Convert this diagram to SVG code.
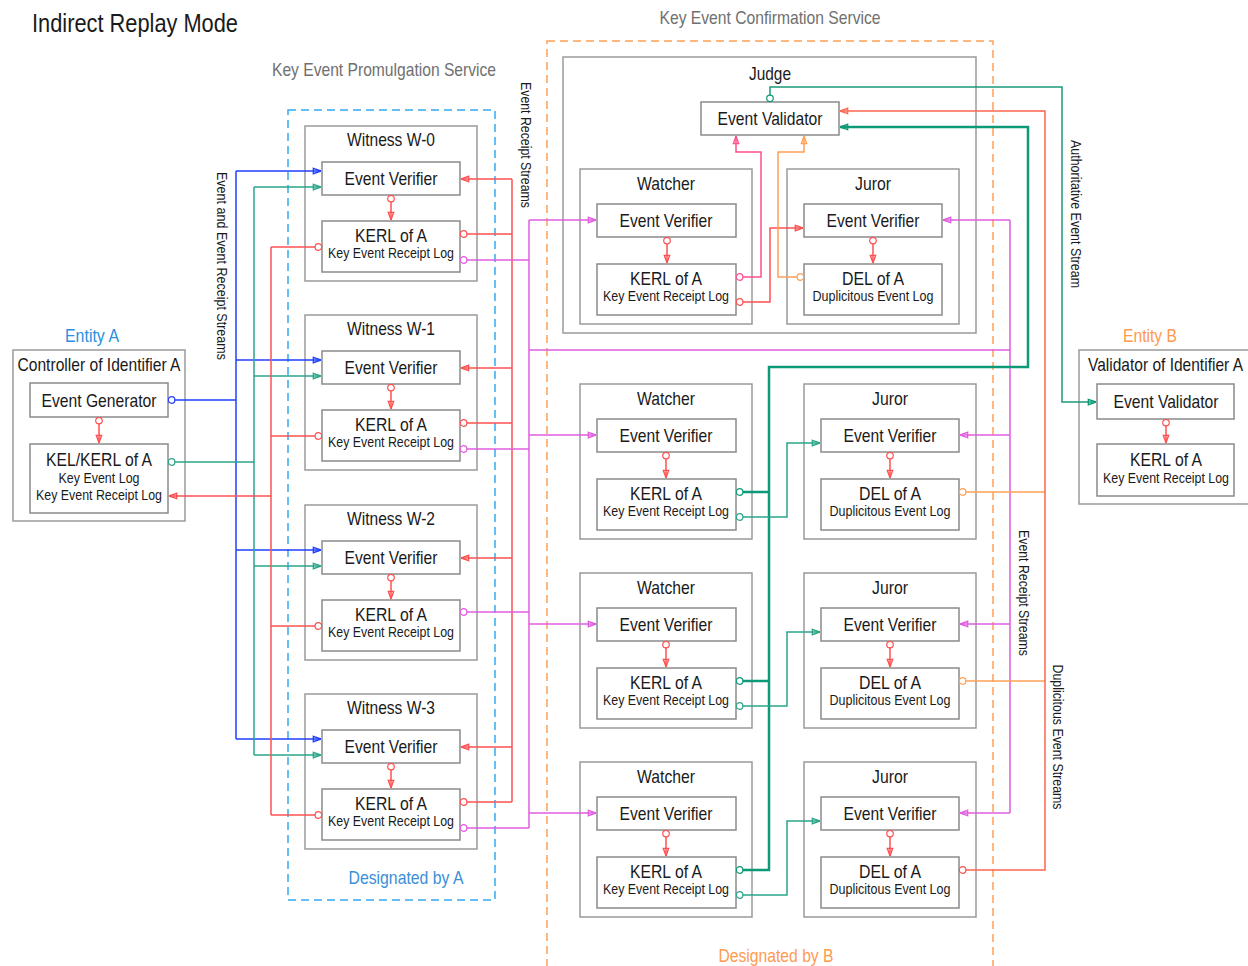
<svg xmlns="http://www.w3.org/2000/svg" width="1248" height="966" viewBox="0 0 1248 966">
<style>
text{font-family:"Liberation Sans",Arial,sans-serif;fill:#1a1a1a}
.t{font-size:19px;text-anchor:middle}
.s{font-size:15px;text-anchor:middle}
.v{font-size:15px;text-anchor:middle}
.g{font-size:19px;text-anchor:middle;fill:#707070}
.outer{fill:#fff;stroke:#9a9a9a;stroke-width:1.5}
.inner{fill:#fff;stroke:#8a8a8a;stroke-width:1.5}
path{fill:none;stroke-width:1.5}
.red{stroke:#ff5050}
.blue{stroke:#1f3fff}
.green{stroke:#2aa58a}
.teal{stroke:#0e9a78;stroke-width:2.5}
.mag{stroke:#e05ce0}
.orange{stroke:#ffa055}
.pink{stroke:#ff4f8f}
.dr{stroke:#ff6650}
.int{stroke:#ff5050;marker-start:url(#c-red);marker-end:url(#a-red)}
</style>
<defs>
<marker id="a-red" viewBox="0 0 10 8" refX="9.5" refY="4" markerWidth="9" markerHeight="7.2" markerUnits="userSpaceOnUse" orient="auto"><path d="M1,1 L9.3,4 L1,7 Z" fill="#fff" stroke="#ff5050" stroke-width="1.3"/></marker>
<marker id="a-blue" viewBox="0 0 10 8" refX="9.5" refY="4" markerWidth="9" markerHeight="7.2" markerUnits="userSpaceOnUse" orient="auto"><path d="M1,1 L9.3,4 L1,7 Z" fill="#fff" stroke="#1f3fff" stroke-width="1.3"/></marker>
<marker id="a-green" viewBox="0 0 10 8" refX="9.5" refY="4" markerWidth="9" markerHeight="7.2" markerUnits="userSpaceOnUse" orient="auto"><path d="M1,1 L9.3,4 L1,7 Z" fill="#fff" stroke="#2aa58a" stroke-width="1.3"/></marker>
<marker id="a-teal" viewBox="0 0 10 8" refX="9.5" refY="4" markerWidth="9" markerHeight="7.2" markerUnits="userSpaceOnUse" orient="auto"><path d="M1,1 L9.3,4 L1,7 Z" fill="#fff" stroke="#0e9a78" stroke-width="1.5"/></marker>
<marker id="a-mag" viewBox="0 0 10 8" refX="9.5" refY="4" markerWidth="9" markerHeight="7.2" markerUnits="userSpaceOnUse" orient="auto"><path d="M1,1 L9.3,4 L1,7 Z" fill="#fff" stroke="#e05ce0" stroke-width="1.3"/></marker>
<marker id="a-orange" viewBox="0 0 10 8" refX="9.5" refY="4" markerWidth="9" markerHeight="7.2" markerUnits="userSpaceOnUse" orient="auto"><path d="M1,1 L9.3,4 L1,7 Z" fill="#fff" stroke="#ffa055" stroke-width="1.3"/></marker>
<marker id="a-pink" viewBox="0 0 10 8" refX="9.5" refY="4" markerWidth="9" markerHeight="7.2" markerUnits="userSpaceOnUse" orient="auto"><path d="M1,1 L9.3,4 L1,7 Z" fill="#fff" stroke="#ff4f8f" stroke-width="1.3"/></marker>
<marker id="a-dr" viewBox="0 0 10 8" refX="9.5" refY="4" markerWidth="9" markerHeight="7.2" markerUnits="userSpaceOnUse" orient="auto"><path d="M1,1 L9.3,4 L1,7 Z" fill="#fff" stroke="#ff6650" stroke-width="1.3"/></marker>
<marker id="c-red" viewBox="0 0 8 8" refX="0.4" refY="4" markerWidth="8" markerHeight="8" markerUnits="userSpaceOnUse" orient="auto"><circle cx="4" cy="4" r="3.3" fill="#fff" stroke="#ff5050" stroke-width="1.2"/></marker>
<marker id="c-blue" viewBox="0 0 8 8" refX="0.4" refY="4" markerWidth="8" markerHeight="8" markerUnits="userSpaceOnUse" orient="auto"><circle cx="4" cy="4" r="3.3" fill="#fff" stroke="#1f3fff" stroke-width="1.2"/></marker>
<marker id="c-green" viewBox="0 0 8 8" refX="0.4" refY="4" markerWidth="8" markerHeight="8" markerUnits="userSpaceOnUse" orient="auto"><circle cx="4" cy="4" r="3.3" fill="#fff" stroke="#2aa58a" stroke-width="1.2"/></marker>
<marker id="c-teal" viewBox="0 0 8 8" refX="0.4" refY="4" markerWidth="8" markerHeight="8" markerUnits="userSpaceOnUse" orient="auto"><circle cx="4" cy="4" r="3.3" fill="#fff" stroke="#0e9a78" stroke-width="1.2"/></marker>
<marker id="c-mag" viewBox="0 0 8 8" refX="0.4" refY="4" markerWidth="8" markerHeight="8" markerUnits="userSpaceOnUse" orient="auto"><circle cx="4" cy="4" r="3.3" fill="#fff" stroke="#e05ce0" stroke-width="1.2"/></marker>
<marker id="c-orange" viewBox="0 0 8 8" refX="0.4" refY="4" markerWidth="8" markerHeight="8" markerUnits="userSpaceOnUse" orient="auto"><circle cx="4" cy="4" r="3.3" fill="#fff" stroke="#ffa055" stroke-width="1.2"/></marker>
<marker id="c-pink" viewBox="0 0 8 8" refX="0.4" refY="4" markerWidth="8" markerHeight="8" markerUnits="userSpaceOnUse" orient="auto"><circle cx="4" cy="4" r="3.3" fill="#fff" stroke="#ff4f8f" stroke-width="1.2"/></marker>
</defs>
<rect width="1248" height="966" fill="#fff"/>

<g id="labels">
<text x="32" y="32" style="font-size:26px" textLength="206" lengthAdjust="spacingAndGlyphs">Indirect Replay Mode</text>
<text class="g" x="770" y="24" textLength="221" lengthAdjust="spacingAndGlyphs">Key Event Confirmation Service</text>
<text class="g" x="384" y="76" textLength="224" lengthAdjust="spacingAndGlyphs">Key Event Promulgation Service</text>
<text class="t" x="406" y="884" style="fill:#3b8fd8" textLength="115" lengthAdjust="spacingAndGlyphs">Designated by A</text>
<text class="t" x="776" y="962" style="fill:#ff9a50" textLength="115" lengthAdjust="spacingAndGlyphs">Designated by B</text>
<text class="t" x="92" y="342" style="fill:#2a90e0" textLength="54" lengthAdjust="spacingAndGlyphs">Entity A</text>
<text class="t" x="1150" y="342" style="fill:#ff9a50" textLength="54" lengthAdjust="spacingAndGlyphs">Entity B</text>
<text class="v" transform="translate(217,266) rotate(90)" textLength="188" lengthAdjust="spacingAndGlyphs">Event and Event Receipt Streams</text>
<text class="v" transform="translate(521,145) rotate(90)" textLength="126" lengthAdjust="spacingAndGlyphs">Event Receipt Streams</text>
<text class="v" transform="translate(1071,214) rotate(90)" textLength="148" lengthAdjust="spacingAndGlyphs">Authoritative Event Stream</text>
<text class="v" transform="translate(1019,593) rotate(90)" textLength="126" lengthAdjust="spacingAndGlyphs">Event Receipt Streams</text>
<text class="v" transform="translate(1053,737) rotate(90)" textLength="145" lengthAdjust="spacingAndGlyphs">Duplicitous Event Streams</text>
</g>

<g id="zones" fill="none" stroke-width="1.5" stroke-dasharray="8,5">
<rect x="288" y="110" width="207" height="790" stroke="#33aaee"/>
<rect x="547" y="41" width="446" height="940" stroke="#ffa055"/>
</g>

<g id="controllerA">
<rect class="outer" x="13" y="350" width="172" height="171"/>
<text class="t" x="99" y="371" textLength="163" lengthAdjust="spacingAndGlyphs">Controller of Identifier A</text>
<rect class="inner" x="30" y="383" width="138" height="34"/>
<text class="t" x="99" y="407" textLength="115" lengthAdjust="spacingAndGlyphs">Event Generator</text>
<rect class="inner" x="30" y="444" width="138" height="69"/>
<text class="t" x="99" y="466" textLength="106" lengthAdjust="spacingAndGlyphs">KEL/KERL of A</text>
<text class="s" x="99" y="483" textLength="81" lengthAdjust="spacingAndGlyphs">Key Event Log</text>
<text class="s" x="99" y="500" textLength="126" lengthAdjust="spacingAndGlyphs">Key Event Receipt Log</text>
</g>

<g id="validatorB">
<path d="M1248,350 H1079 V504 H1248" style="fill:#fff;stroke:#9a9a9a;stroke-width:1.5"/>
<text class="t" x="1243" y="371" style="text-anchor:end" textLength="155" lengthAdjust="spacingAndGlyphs">Validator of Identifier A</text>
<rect class="inner" x="1097" y="384" width="137" height="35"/>
<text class="t" x="1166" y="408" textLength="105" lengthAdjust="spacingAndGlyphs">Event Validator</text>
<rect class="inner" x="1097" y="444" width="137" height="52"/>
<text class="t" x="1166" y="466" textLength="72" lengthAdjust="spacingAndGlyphs">KERL of A</text>
<text class="s" x="1229" y="483" style="text-anchor:end" textLength="126" lengthAdjust="spacingAndGlyphs">Key Event Receipt Log</text>
</g>

<g id="witness0">
<rect class="outer" x="305" y="126" width="172" height="155"/>
<text class="t" x="391" y="146" textLength="88" lengthAdjust="spacingAndGlyphs">Witness W-0</text>
<rect class="inner" x="322" y="162" width="138" height="33"/>
<text class="t" x="391" y="185" textLength="93" lengthAdjust="spacingAndGlyphs">Event Verifier</text>
<rect class="inner" x="322" y="221" width="138" height="51"/>
<text class="t" x="391" y="242" textLength="72" lengthAdjust="spacingAndGlyphs">KERL of A</text>
<text class="s" x="391" y="258" textLength="126" lengthAdjust="spacingAndGlyphs">Key Event Receipt Log</text>
</g>
<g id="witness1">
<rect class="outer" x="305" y="315" width="172" height="155"/>
<text class="t" x="391" y="335" textLength="88" lengthAdjust="spacingAndGlyphs">Witness W-1</text>
<rect class="inner" x="322" y="351" width="138" height="33"/>
<text class="t" x="391" y="374" textLength="93" lengthAdjust="spacingAndGlyphs">Event Verifier</text>
<rect class="inner" x="322" y="410" width="138" height="51"/>
<text class="t" x="391" y="431" textLength="72" lengthAdjust="spacingAndGlyphs">KERL of A</text>
<text class="s" x="391" y="447" textLength="126" lengthAdjust="spacingAndGlyphs">Key Event Receipt Log</text>
</g>
<g id="witness2">
<rect class="outer" x="305" y="505" width="172" height="155"/>
<text class="t" x="391" y="525" textLength="88" lengthAdjust="spacingAndGlyphs">Witness W-2</text>
<rect class="inner" x="322" y="541" width="138" height="33"/>
<text class="t" x="391" y="564" textLength="93" lengthAdjust="spacingAndGlyphs">Event Verifier</text>
<rect class="inner" x="322" y="600" width="138" height="51"/>
<text class="t" x="391" y="621" textLength="72" lengthAdjust="spacingAndGlyphs">KERL of A</text>
<text class="s" x="391" y="637" textLength="126" lengthAdjust="spacingAndGlyphs">Key Event Receipt Log</text>
</g>
<g id="witness3">
<rect class="outer" x="305" y="694" width="172" height="155"/>
<text class="t" x="391" y="714" textLength="88" lengthAdjust="spacingAndGlyphs">Witness W-3</text>
<rect class="inner" x="322" y="730" width="138" height="33"/>
<text class="t" x="391" y="753" textLength="93" lengthAdjust="spacingAndGlyphs">Event Verifier</text>
<rect class="inner" x="322" y="789" width="138" height="51"/>
<text class="t" x="391" y="810" textLength="72" lengthAdjust="spacingAndGlyphs">KERL of A</text>
<text class="s" x="391" y="826" textLength="126" lengthAdjust="spacingAndGlyphs">Key Event Receipt Log</text>
</g>

<g id="judge">
<rect class="outer" x="563" y="57" width="413" height="276"/>
<text class="t" x="770" y="80" textLength="42" lengthAdjust="spacingAndGlyphs">Judge</text>
<rect class="inner" x="701" y="102" width="138" height="33"/>
<text class="t" x="770" y="125" textLength="105" lengthAdjust="spacingAndGlyphs">Event Validator</text>
</g>
<g id="watcher0">
<rect class="outer" x="580" y="169" width="172" height="155"/>
<text class="t" x="666" y="190" textLength="58" lengthAdjust="spacingAndGlyphs">Watcher</text>
<rect class="inner" x="597" y="204" width="139" height="33"/>
<text class="t" x="666" y="227" textLength="93" lengthAdjust="spacingAndGlyphs">Event Verifier</text>
<rect class="inner" x="597" y="264" width="139" height="51"/>
<text class="t" x="666" y="285" textLength="72" lengthAdjust="spacingAndGlyphs">KERL of A</text>
<text class="s" x="666" y="301" textLength="126" lengthAdjust="spacingAndGlyphs">Key Event Receipt Log</text>
</g>
<g id="juror0">
<rect class="outer" x="787" y="169" width="172" height="155"/>
<text class="t" x="873" y="190" textLength="36" lengthAdjust="spacingAndGlyphs">Juror</text>
<rect class="inner" x="804" y="204" width="138" height="33"/>
<text class="t" x="873" y="227" textLength="93" lengthAdjust="spacingAndGlyphs">Event Verifier</text>
<rect class="inner" x="804" y="264" width="138" height="51"/>
<text class="t" x="873" y="285" textLength="62" lengthAdjust="spacingAndGlyphs">DEL of A</text>
<text class="s" x="873" y="301" textLength="121" lengthAdjust="spacingAndGlyphs">Duplicitous Event Log</text>
</g>

<g id="watcher1">
<rect class="outer" x="580" y="384" width="172" height="155"/>
<text class="t" x="666" y="405" textLength="58" lengthAdjust="spacingAndGlyphs">Watcher</text>
<rect class="inner" x="597" y="419" width="139" height="33"/>
<text class="t" x="666" y="442" textLength="93" lengthAdjust="spacingAndGlyphs">Event Verifier</text>
<rect class="inner" x="597" y="479" width="139" height="51"/>
<text class="t" x="666" y="500" textLength="72" lengthAdjust="spacingAndGlyphs">KERL of A</text>
<text class="s" x="666" y="516" textLength="126" lengthAdjust="spacingAndGlyphs">Key Event Receipt Log</text>
</g>
<g id="juror1">
<rect class="outer" x="804" y="384" width="172" height="155"/>
<text class="t" x="890" y="405" textLength="36" lengthAdjust="spacingAndGlyphs">Juror</text>
<rect class="inner" x="821" y="419" width="138" height="33"/>
<text class="t" x="890" y="442" textLength="93" lengthAdjust="spacingAndGlyphs">Event Verifier</text>
<rect class="inner" x="821" y="479" width="138" height="51"/>
<text class="t" x="890" y="500" textLength="62" lengthAdjust="spacingAndGlyphs">DEL of A</text>
<text class="s" x="890" y="516" textLength="121" lengthAdjust="spacingAndGlyphs">Duplicitous Event Log</text>
</g>
<g id="watcher2">
<rect class="outer" x="580" y="573" width="172" height="155"/>
<text class="t" x="666" y="594" textLength="58" lengthAdjust="spacingAndGlyphs">Watcher</text>
<rect class="inner" x="597" y="608" width="139" height="33"/>
<text class="t" x="666" y="631" textLength="93" lengthAdjust="spacingAndGlyphs">Event Verifier</text>
<rect class="inner" x="597" y="668" width="139" height="51"/>
<text class="t" x="666" y="689" textLength="72" lengthAdjust="spacingAndGlyphs">KERL of A</text>
<text class="s" x="666" y="705" textLength="126" lengthAdjust="spacingAndGlyphs">Key Event Receipt Log</text>
</g>
<g id="juror2">
<rect class="outer" x="804" y="573" width="172" height="155"/>
<text class="t" x="890" y="594" textLength="36" lengthAdjust="spacingAndGlyphs">Juror</text>
<rect class="inner" x="821" y="608" width="138" height="33"/>
<text class="t" x="890" y="631" textLength="93" lengthAdjust="spacingAndGlyphs">Event Verifier</text>
<rect class="inner" x="821" y="668" width="138" height="51"/>
<text class="t" x="890" y="689" textLength="62" lengthAdjust="spacingAndGlyphs">DEL of A</text>
<text class="s" x="890" y="705" textLength="121" lengthAdjust="spacingAndGlyphs">Duplicitous Event Log</text>
</g>
<g id="watcher3">
<rect class="outer" x="580" y="762" width="172" height="155"/>
<text class="t" x="666" y="783" textLength="58" lengthAdjust="spacingAndGlyphs">Watcher</text>
<rect class="inner" x="597" y="797" width="139" height="33"/>
<text class="t" x="666" y="820" textLength="93" lengthAdjust="spacingAndGlyphs">Event Verifier</text>
<rect class="inner" x="597" y="857" width="139" height="51"/>
<text class="t" x="666" y="878" textLength="72" lengthAdjust="spacingAndGlyphs">KERL of A</text>
<text class="s" x="666" y="894" textLength="126" lengthAdjust="spacingAndGlyphs">Key Event Receipt Log</text>
</g>
<g id="juror3">
<rect class="outer" x="804" y="762" width="172" height="155"/>
<text class="t" x="890" y="783" textLength="36" lengthAdjust="spacingAndGlyphs">Juror</text>
<rect class="inner" x="821" y="797" width="138" height="33"/>
<text class="t" x="890" y="820" textLength="93" lengthAdjust="spacingAndGlyphs">Event Verifier</text>
<rect class="inner" x="821" y="857" width="138" height="51"/>
<text class="t" x="890" y="878" textLength="62" lengthAdjust="spacingAndGlyphs">DEL of A</text>
<text class="s" x="890" y="894" textLength="121" lengthAdjust="spacingAndGlyphs">Duplicitous Event Log</text>
</g>

<g id="connectors">
<path class="int" d="M99,417 V443"/>
<path class="int" d="M1166,419 V443"/>
<path class="int" d="M391,195 V220"/>
<path class="int" d="M391,384 V409"/>
<path class="int" d="M391,574 V599"/>
<path class="int" d="M391,763 V788"/>
<path class="int" d="M667,237 V263"/>
<path class="int" d="M873,237 V263"/>
<path class="int" d="M666,452 V478"/>
<path class="int" d="M890,452 V478"/>
<path class="int" d="M666,641 V667"/>
<path class="int" d="M890,641 V667"/>
<path class="int" d="M666,830 V856"/>
<path class="int" d="M890,830 V856"/>

<path class="blue" d="M168,400 H236" marker-start="url(#c-blue)"/>
<path class="blue" d="M236,171 V739"/>
<path class="blue" d="M236,171 H321" marker-end="url(#a-blue)"/>
<path class="blue" d="M236,360 H321" marker-end="url(#a-blue)"/>
<path class="blue" d="M236,550 H321" marker-end="url(#a-blue)"/>
<path class="blue" d="M236,739 H321" marker-end="url(#a-blue)"/>

<path class="green" d="M168,462 H254" marker-start="url(#c-green)"/>
<path class="green" d="M254,187 V755"/>
<path class="green" d="M254,187 H321" marker-end="url(#a-green)"/>
<path class="green" d="M254,376 H321" marker-end="url(#a-green)"/>
<path class="green" d="M254,566 H321" marker-end="url(#a-green)"/>
<path class="green" d="M254,755 H321" marker-end="url(#a-green)"/>

<path class="red" d="M322,247 H271" marker-start="url(#c-red)"/>
<path class="red" d="M322,436 H271" marker-start="url(#c-red)"/>
<path class="red" d="M322,626 H271" marker-start="url(#c-red)"/>
<path class="red" d="M322,815 H271" marker-start="url(#c-red)"/>
<path class="red" d="M271,247 V815"/>
<path class="red" d="M271,496 H169" marker-end="url(#a-red)"/>

<path class="red" d="M460,234 H512" marker-start="url(#c-red)"/>
<path class="red" d="M460,423 H512" marker-start="url(#c-red)"/>
<path class="red" d="M460,802 H512" marker-start="url(#c-red)"/>
<path class="red" d="M512,179 V802"/>
<path class="red" d="M512,179 H461" marker-end="url(#a-red)"/>
<path class="red" d="M512,368 H461" marker-end="url(#a-red)"/>
<path class="red" d="M512,558 H461" marker-end="url(#a-red)"/>
<path class="red" d="M512,747 H461" marker-end="url(#a-red)"/>

<path class="mag" d="M460,260 H529" marker-start="url(#c-mag)"/>
<path class="mag" d="M460,449 H529" marker-start="url(#c-mag)"/>
<path class="mag" d="M460,612 H529" marker-start="url(#c-mag)"/>
<path class="mag" d="M460,828 H529" marker-start="url(#c-mag)"/>
<path class="mag" d="M529,220 V828"/>
<path class="mag" d="M529,220 H596" marker-end="url(#a-mag)"/>
<path class="mag" d="M529,435 H596" marker-end="url(#a-mag)"/>
<path class="mag" d="M529,624 H596" marker-end="url(#a-mag)"/>
<path class="mag" d="M529,813 H596" marker-end="url(#a-mag)"/>
<path class="mag" d="M529,350 H1010 M1010,220 V813"/>
<path class="mag" d="M1010,220 H943" marker-end="url(#a-mag)"/>
<path class="mag" d="M1010,435 H960" marker-end="url(#a-mag)"/>
<path class="mag" d="M1010,624 H960" marker-end="url(#a-mag)"/>
<path class="mag" d="M1010,813 H960" marker-end="url(#a-mag)"/>

<path class="pink" d="M736,277 H761 V152 H736 V136" marker-start="url(#c-pink)" marker-end="url(#a-pink)"/>
<path class="red" d="M736,302 H770 V228 H803" marker-start="url(#c-red)" marker-end="url(#a-red)"/>
<path class="orange" d="M804,277 H778 V152 H804 V136" marker-start="url(#c-orange)" marker-end="url(#a-orange)"/>

<path class="green" style="stroke:#1a9a7a" d="M770,102 V87 H1062 V402 H1096" marker-start="url(#c-teal)" marker-end="url(#a-teal)"/>

<path class="orange" d="M959,492 H1045" marker-start="url(#c-orange)"/>
<path class="orange" d="M959,681 H1045" marker-start="url(#c-orange)"/>
<path class="dr" d="M959,870 H1045 V111 H840" marker-start="url(#c-red)" marker-end="url(#a-dr)"/>

<path class="teal" d="M736,492 H769" marker-start="url(#c-teal)"/>
<path class="teal" d="M736,681 H769" marker-start="url(#c-teal)"/>
<path class="teal" d="M736,870 H769 V367 H1028 V127 H840" marker-start="url(#c-teal)" marker-end="url(#a-teal)"/>

<path class="green" d="M736,517 H787 V443 H820" marker-start="url(#c-green)" marker-end="url(#a-green)"/>
<path class="green" d="M736,706 H787 V632 H820" marker-start="url(#c-green)" marker-end="url(#a-green)"/>
<path class="green" d="M736,895 H787 V821 H820" marker-start="url(#c-green)" marker-end="url(#a-green)"/>
</g>
</svg>
